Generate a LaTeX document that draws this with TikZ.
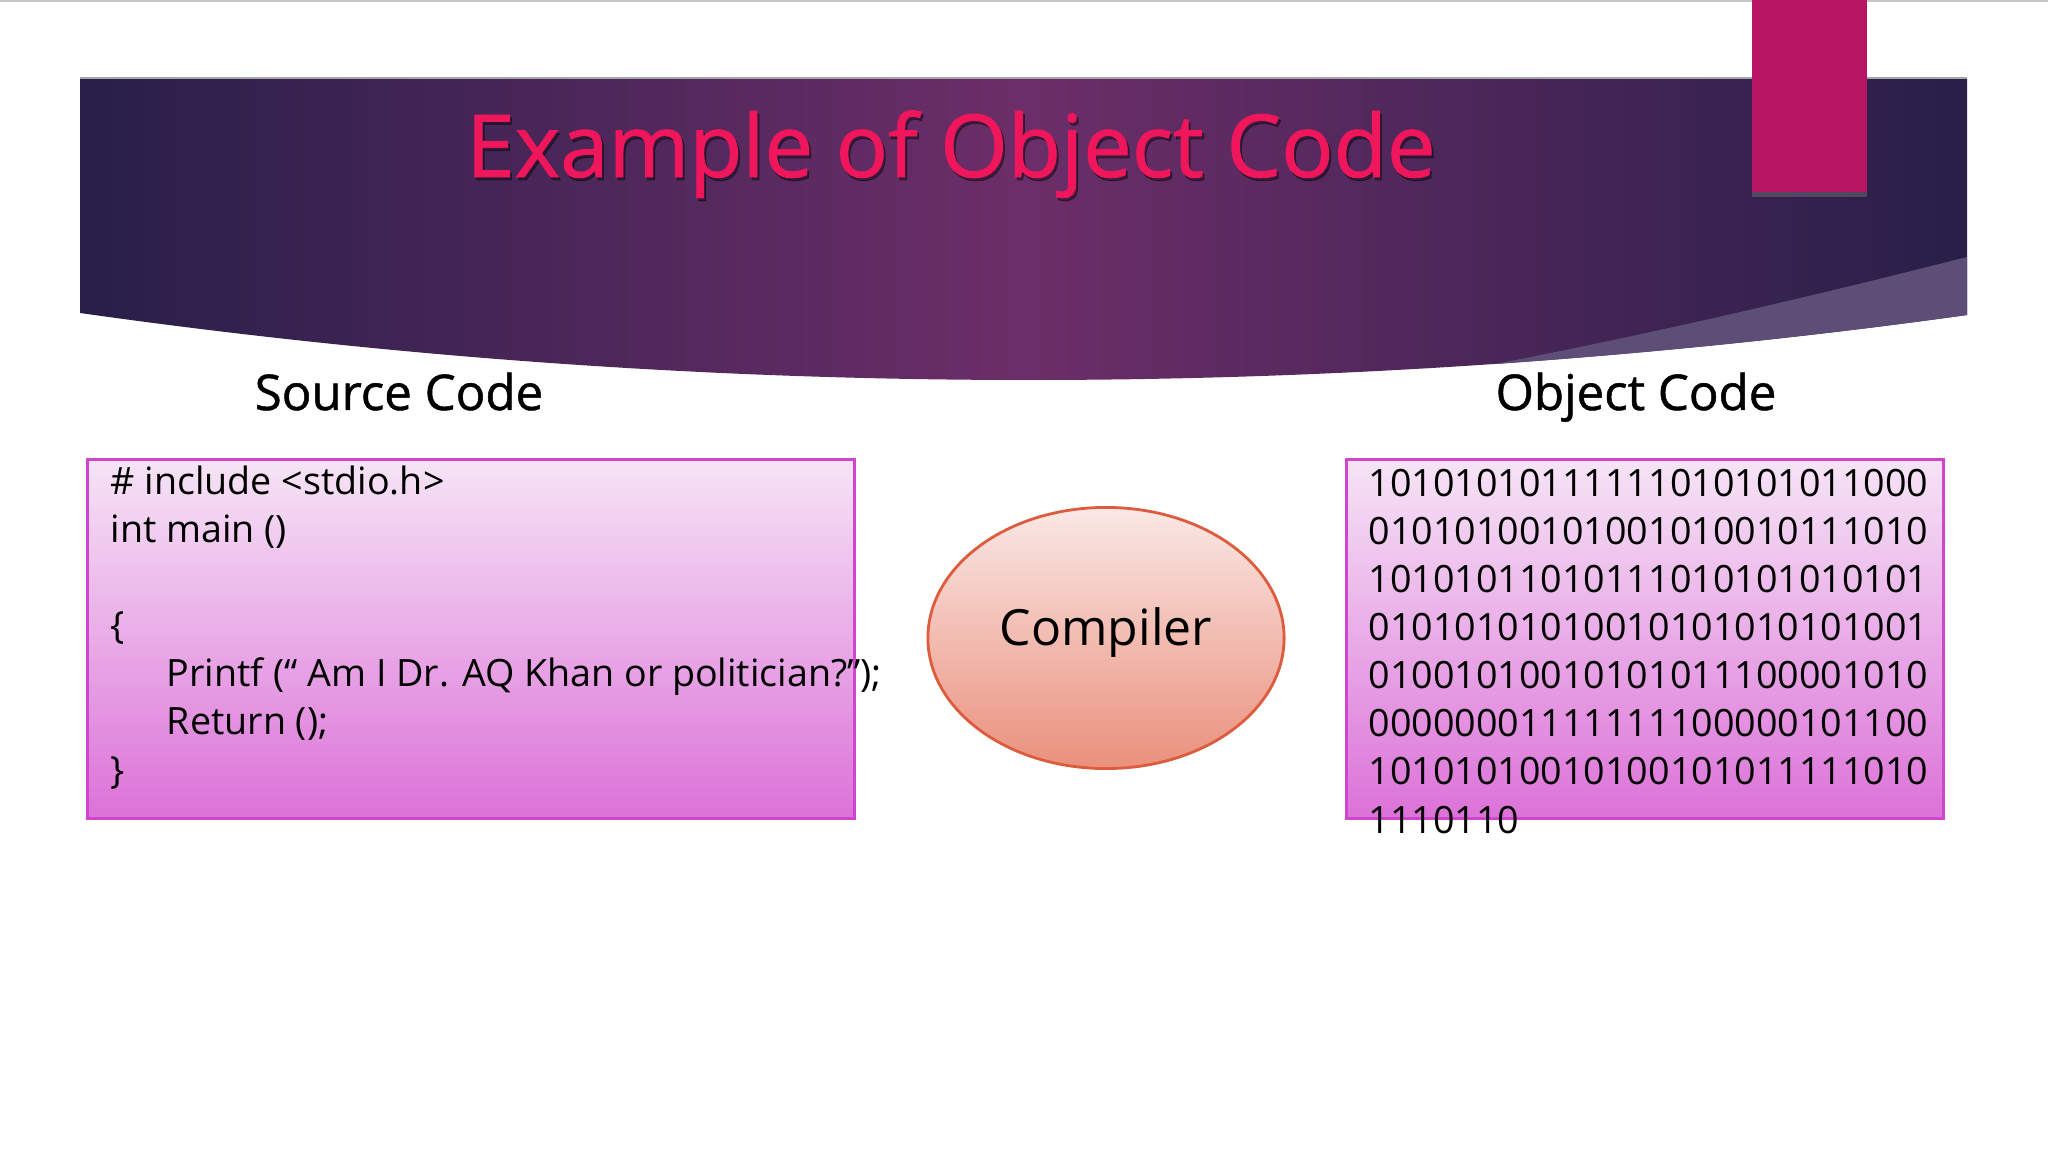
\documentclass[tikz,border=0pt]{standalone}
\usepackage{fontspec}
\setmainfont{Open Sans}
\newfontfamily\headfont[FakeBold=1]{Open Sans}
\usetikzlibrary{positioning, shapes.geometric, shadows}
\definecolor{bannerDark}{RGB}{40,31,72}
\definecolor{bannerMid}{RGB}{108,46,104}
\definecolor{wedgeGray}{RGB}{92,78,118}
\definecolor{titlePink}{RGB}{240,22,92}
\definecolor{tabMagenta}{RGB}{184,20,100}
\definecolor{boxTop}{RGB}{246,228,246}
\definecolor{boxBottom}{RGB}{220,114,216}
\definecolor{boxBorder}{RGB}{205,70,205}
\definecolor{ovalTop}{RGB}{250,232,230}
\definecolor{ovalBottom}{RGB}{234,144,124}
\definecolor{ovalBorder}{RGB}{222,92,62}

\begin{document}
\begin{tikzpicture}[x=0.01cm, y=-0.01cm,
  codebox/.style={draw=boxBorder, line width=0.9pt, top color=boxTop, bottom color=boxBottom,
                  inner sep=0pt, minimum height=3.58cm},
  codetext/.style={anchor=base west, inner sep=0pt, align=left, font=\fontsize{10.7}{13.66}\selectfont},
  heading/.style={anchor=base, inner sep=0pt, font=\headfont\fontsize{14}{16}\selectfont},
  oval/.style={ellipse, draw=ovalBorder, line width=0.8pt, top color=ovalTop, bottom color=ovalBottom,
               minimum width=3.56cm, minimum height=2.61cm, inner sep=0pt,
               text height=8pt, text depth=4pt, font=\fontsize{14.2}{17}\selectfont}
]
\useasboundingbox[fill=white] (0,0) rectangle (2048,1152);
\draw[gray!45, line width=0.8pt] (0,1) -- (2048,1);

\shade[left color=bannerDark, right color=bannerDark, middle color=bannerMid]
  (80,78) -- (1967,78) -- (1967,315) .. controls (1338,402) and (709,402) .. (80,313) -- cycle;
\fill[wedgeGray] (1967,257) .. controls (1802,299) and (1645,335) .. (1495,364)
  .. controls (1652,353) and (1810,337) .. (1967,315) -- cycle;
\draw[gray!70, line width=0.5pt] (80,78) -- (1967,78);
\fill[tabMagenta, drop shadow={shadow xshift=0pt, shadow yshift=-1.5pt, opacity=0.4}]
  (1752,0) rectangle (1867,192);

\node[anchor=base, inner sep=0pt, text=black, opacity=0.4, font=\headfont\fontsize{24.7}{28}\selectfont]
  (titleshadow) at (953,180) {Example of Object Code};
\node[anchor=base, inner sep=0pt, text=titlePink, font=\headfont\fontsize{24.7}{28}\selectfont]
  (title) at (951,177) {Example of Object Code};

\node[heading] (srclabel) at (399,410) {Source Code};
\node[heading] (objlabel) at (1636,410) {Object Code};

\node[codebox, minimum width=7.66cm] (srcbox) at (471,639) {};
\node[codetext] (srctext) at (110,783)
  {\# include <stdio.h>\\
   int main ()\\[13.66pt]
   \{\\
   \hspace*{16pt}Printf (“ Am I Dr. AQ Khan or politician?”);\\
   \hspace*{16pt}Return ();\\
   \}};

\node[oval] (compiler) at (1106,638) {Compiler};

\node[codebox, minimum width=5.96cm] (objbox) at (1645,639) {};
\node[codetext] (objtext) at (1368,833)
  {10101010111111010101011000\\
   01010100101001010010111010\\
   10101011010111010101010101\\
   01010101010010101010101001\\
   01001010010101011100001010\\
   00000001111111100000101100\\
   10101010010100101011111010\\
   1110110};
\end{tikzpicture}
\end{document}
